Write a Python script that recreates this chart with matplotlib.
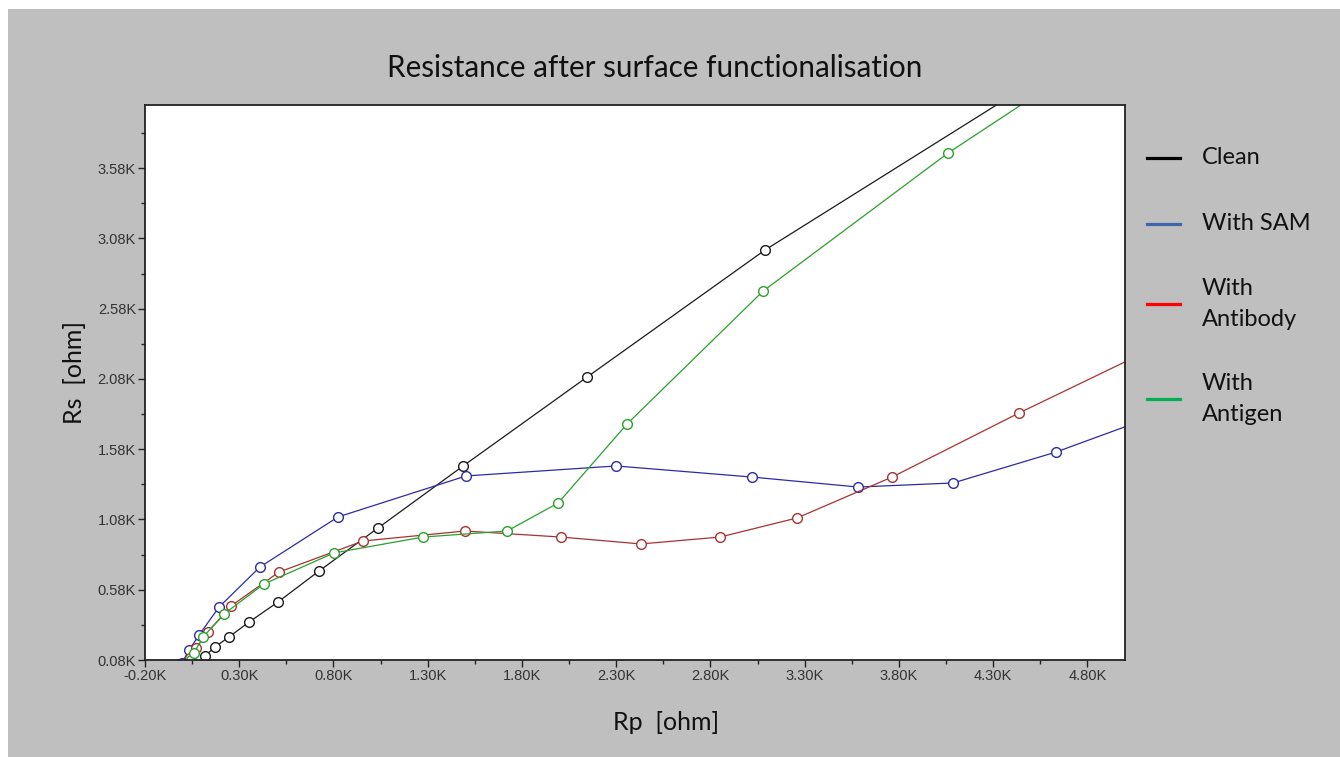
import numpy as np
import matplotlib.pyplot as plt
from matplotlib.lines import Line2D
from matplotlib.patches import Rectangle
from matplotlib.ticker import FixedLocator, FuncFormatter

# Rp / Rs readings in ohm for each surface state
clean_rp = [118, 171, 246, 352, 506, 723, 1036, 1488, 2146, 3090, 4868]
clean_rs = [108, 173, 244, 350, 493, 713, 1019, 1461, 2094, 2998, 4492]

sam_rp = [-4, 34, 87, 193, 410, 824, 1504, 2300, 3021, 3584, 4088, 4634, 5186]
sam_rs = [59, 151, 258, 457, 742, 1098, 1390, 1461, 1382, 1311, 1340, 1560, 1831]

antibody_rp = [39, 71, 134, 256, 511, 957, 1498, 2008, 2432, 2851, 3260, 3764, 4438, 5186]
antibody_rs = [94, 165, 279, 464, 706, 927, 998, 955, 906, 955, 1091, 1382, 1838, 2322]

antigen_rp = [44, 60, 108, 219, 431, 803, 1275, 1721, 1992, 2358, 3080, 4061, 4762]
antigen_rs = [80, 130, 244, 407, 621, 842, 955, 998, 1197, 1760, 2706, 3688, 4308]

series = [
    (clean_rp, clean_rs, '#1a1a1a'),
    (sam_rp, sam_rs, '#2b2ba8'),
    (antibody_rp, antibody_rs, '#a83232'),
    (antigen_rp, antigen_rs, '#2aa02a'),
]

legend_labels = ['Clean', 'With SAM', 'With\nAntibody', 'With\nAntigen']
legend_colors = ['#000000', '#4266ac', '#ff0000', '#00b050']

W, H = 1340, 757
fig = plt.figure(figsize=(W / 100, H / 100), dpi=100)
fig.patch.set_facecolor('white')
fig.add_artist(Rectangle((8 / W, 0), 1, 1 - 9 / H, transform=fig.transFigure,
                         facecolor='#bfbfbf', edgecolor='none', zorder=-10))

ax = fig.add_axes([145 / W, (H - 660) / H, 980 / W, 555 / H])
ax.set_facecolor('white')

for rp, rs, col in series:
    ax.plot(rp, rs, color=col, lw=0.9, marker='o', ms=7, mfc='white',
            mec=col, mew=1.0, clip_on=True)

ax.set_xlim(-200, 5000)
ax.set_ylim(80, 4030)

xmaj = np.arange(-200, 5001, 500)
ymaj = np.arange(80, 4030, 500)
ax.xaxis.set_major_locator(FixedLocator(xmaj))
ax.xaxis.set_minor_locator(FixedLocator(xmaj[:-1] + 250))
ax.yaxis.set_major_locator(FixedLocator(ymaj))
ax.yaxis.set_minor_locator(FixedLocator(ymaj + 250))
kfmt = FuncFormatter(lambda v, p: f'{v / 1000:.2f}K')
ax.xaxis.set_major_formatter(kfmt)
ax.yaxis.set_major_formatter(kfmt)

ax.tick_params(which='major', direction='out', length=5, width=1, color='#222222',
               labelsize=10.5, labelcolor='#333333', pad=1.5)
ax.tick_params(which='minor', direction='out', length=3, width=1, color='#222222')
for lab in ax.get_xticklabels() + ax.get_yticklabels():
    lab.set_family('Liberation Sans')

for sp in ax.spines.values():
    sp.set_color('#222222')
    sp.set_linewidth(1.3)

txt_font = 'Lato'
fig.text(655 / W, 1 - 68 / H, 'Resistance after surface functionalisation',
         ha='center', va='center', fontsize=21.3, family=txt_font, color='#111111')
fig.text(666 / W, 1 - 723 / H, 'Rp  [ohm]', ha='center', va='center',
         fontsize=18, family=txt_font, color='#111111')
fig.text(75 / W, 1 - 372 / H, 'Rs  [ohm]', ha='center', va='center', rotation=90,
         fontsize=18, family=txt_font, color='#111111')

legend_y = [158, 224, 304, 399]
for lbl, col, yy in zip(legend_labels, legend_colors, legend_y):
    fy = 1 - yy / H
    fig.add_artist(Line2D([1147 / W, 1180 / W], [fy, fy], transform=fig.transFigure,
                          color=col, lw=2.3))
    fig.text(1202 / W, fy, lbl, ha='left', va='center', fontsize=17,
             family=txt_font, color='#111111', linespacing=1.6)

fig.savefig('out.png', dpi=100, facecolor=fig.get_facecolor())
